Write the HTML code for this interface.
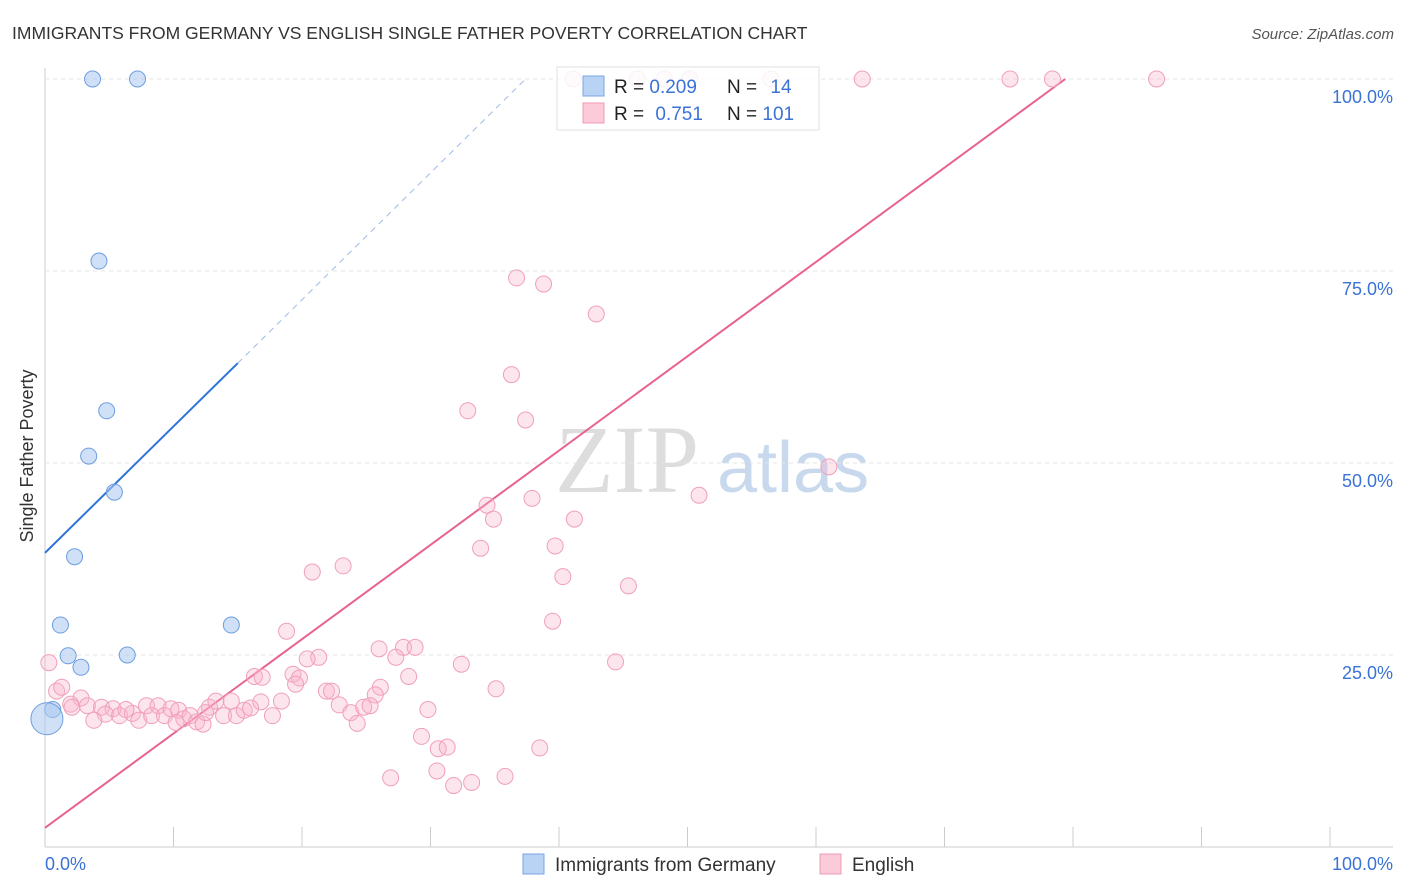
<!DOCTYPE html>
<html><head><meta charset="utf-8"><style>
body{margin:0;background:#fff;font-family:"Liberation Sans",sans-serif;}
svg{display:block}
</style></head><body>
<svg id="c" width="1406" height="892">
<text x="12" y="39" font-size="17.5" fill="#333">IMMIGRANTS FROM GERMANY VS ENGLISH SINGLE FATHER POVERTY CORRELATION CHART</text>
<text x="1394" y="39" font-size="15" fill="#555" font-style="italic" text-anchor="end">Source: ZipAtlas.com</text>
<text x="33" y="456" font-size="18" fill="#333" text-anchor="middle" transform="rotate(-90 33 456)">Single Father Poverty</text>
<g><text x="555" y="492" font-size="96" font-family="Liberation Serif" fill="#ddd">ZIP</text><text x="717" y="492" font-size="72" fill="#c8d9ee">atlas</text></g>
<g id="grid"></g><g id="lines"></g><g id="pts"></g>
<g>
<rect x="557" y="67" width="262" height="63" fill="#fff" stroke="#ddd" opacity="0.85"/>
<rect x="583" y="76" width="21" height="20" fill="#b9d3f5" stroke="#7aa6e0"/>
<rect x="583" y="103" width="21" height="20" fill="#fccbd9" stroke="#f09ab5"/>
<text x="614" y="93" font-size="19" fill="#222">R = <tspan fill="#3a72d6">0.209</tspan></text>
<text x="727" y="93" font-size="19" fill="#222">N = <tspan fill="#3a72d6" dx="8">14</tspan></text>
<text x="614" y="120" font-size="19" fill="#222">R = <tspan fill="#3a72d6" dx="6">0.751</tspan></text>
<text x="727" y="120" font-size="19" fill="#222">N = <tspan fill="#3a72d6">101</tspan></text>
</g>
<g>
<rect x="523" y="854" width="21" height="20" fill="#b9d3f5" stroke="#7aa6e0"/>
<text x="555" y="871" font-size="19" fill="#333">Immigrants from Germany</text>
<rect x="820" y="854" width="21" height="20" fill="#fccbd9" stroke="#f09ab5"/>
<text x="852" y="871" font-size="19" fill="#333">English</text>
</g>
</svg>
<script>
const xTicks=[0,10,20,30,40,50,60,70,80,90,100];
const yTicks=[25,50,75,100];
const blueX=[3.7,7.2,4.2,4.8,3.4,5.4,2.3,1.2,1.8,2.8,6.4,14.5,0.6,0.15];
const blueY=[100,100,76.3,56.8,50.9,46.2,37.8,28.9,24.9,23.4,25.0,28.9,17.9,16.7];
const pinkX=[41.1,46.1,48.2,50.2,56.5,63.6,75.1,78.4,86.5,36.7,38.8,42.9,36.3,32.9,37.4,61,50.9,37.9,34.4,34.9,41.2,33.9,39.7,40.3,23.2,20.8,45.4,39.5,18.8,27.9,28.8,27.3,44.4,21.3,20.4,32.4,16.3,16.9,19.3,19.8,28.3,26.1,35.1,21.9,22.3,25.7,0.3,0.9,1.3,2.8,2,2.1,3.3,4.4,5.3,4.7,3.8,5.8,6.8,6.3,7.3,7.9,8.8,8.3,9.3,9.8,10.4,10.8,11.3,11.8,12.3,12.8,13.3,13.9,14.5,14.9,15.5,16,16.8,18.4,17.7,22.9,23.8,24.3,24.8,25.3,29.8,29.3,30.6,31.3,30.5,26.9,31.8,33.2,35.8,38.5,26,19.5,10.2,12.5];
const pinkY=[100,100,100,100,100,100,100,100,100,74.1,73.3,69.4,61.5,56.8,55.6,49.5,45.8,45.4,44.5,42.7,42.7,38.9,39.2,35.2,36.6,35.8,34.0,29.4,28.1,26.0,26.0,24.7,24.1,24.7,24.5,23.8,22.2,22.1,22.5,22.0,22.2,20.8,20.6,20.3,20.3,19.8,24.0,20.3,20.8,19.4,18.6,18.2,18.4,18.2,18.0,17.3,16.5,17.1,17.4,17.9,16.5,18.4,18.4,17.1,17.1,18.0,17.8,16.7,17.1,16.3,16.0,18.2,19.0,17.1,19.0,17.1,17.8,18.1,18.9,19.0,17.1,18.5,17.5,16.1,18.2,18.4,17.9,14.4,12.8,13.0,9.9,9.0,8.0,8.4,9.2,12.9,25.8,21.2,16.2,17.5];
const blueLine=[[0,38.3],[15,63]], blueDash=[[15,63],[37.4,100]];
const pinkLine=[[0,2.5],[79.4,100]];
const X=v=>45+v*12.85, Y=v=>847-v*7.68;
const NS='http://www.w3.org/2000/svg';
function mk(t,a,p){const e=document.createElementNS(NS,t);for(const k in a)e.setAttribute(k,a[k]);document.getElementById(p).appendChild(e);return e;}
const ax=mk('line',{x1:45,y1:847,x2:1393,y2:847,stroke:'#ccc'},'grid');


const ay=mk('line',{x1:45,y1:68,x2:45,y2:847,stroke:'#ccc'},'grid');


xTicks.forEach(t=>{const e=mk('line',{x1:X(t),y1:827,x2:X(t),y2:847,stroke:'#ccc'},'grid');

});
yTicks.forEach(t=>{const e=mk('line',{x1:45,y1:Y(t),x2:1393,y2:Y(t),stroke:'#e4e4e4','stroke-dasharray':'4,4'},'grid');


const l=mk('text',{x:1393,y:Y(t)+24,'font-size':18,fill:'#3a72d6','text-anchor':'end'},'grid');l.textContent=t.toFixed(1)+'%';

});
const x0=mk('text',{x:45,y:870,'font-size':18,fill:'#3a72d6'},'grid');x0.textContent='0.0%';


const x1=mk('text',{x:1393,y:870,'font-size':18,fill:'#3a72d6','text-anchor':'end'},'grid');x1.textContent='100.0%';


const bl=mk('line',{x1:X(blueLine[0][0]),y1:Y(blueLine[0][1]),x2:X(blueLine[1][0]),y2:Y(blueLine[1][1]),stroke:'#2f74d8','stroke-width':2},'lines');


const bd=mk('line',{x1:X(blueDash[0][0]),y1:Y(blueDash[0][1]),x2:X(blueDash[1][0]),y2:Y(blueDash[1][1]),stroke:'#9dbbe5','stroke-width':1,'stroke-dasharray':'6,5'},'lines');


const pl=mk('line',{x1:X(pinkLine[0][0]),y1:Y(pinkLine[0][1]),x2:X(pinkLine[1][0]),y2:Y(pinkLine[1][1]),stroke:'#e8628f','stroke-width':2},'lines');


pinkX.forEach((v,i)=>{const c=mk('circle',{cx:X(v),cy:Y(pinkY[i]),r:8,fill:'rgba(249,180,202,0.35)',stroke:'#f0a0b9','stroke-width':1},'pts');

});
blueX.forEach((v,i)=>{const c=mk('circle',{cx:X(v),cy:Y(blueY[i]),r:i==13?16:8,fill:'rgba(170,200,240,0.55)',stroke:'#6d9ee0','stroke-width':1},'pts');

});
</script>
</body></html>
